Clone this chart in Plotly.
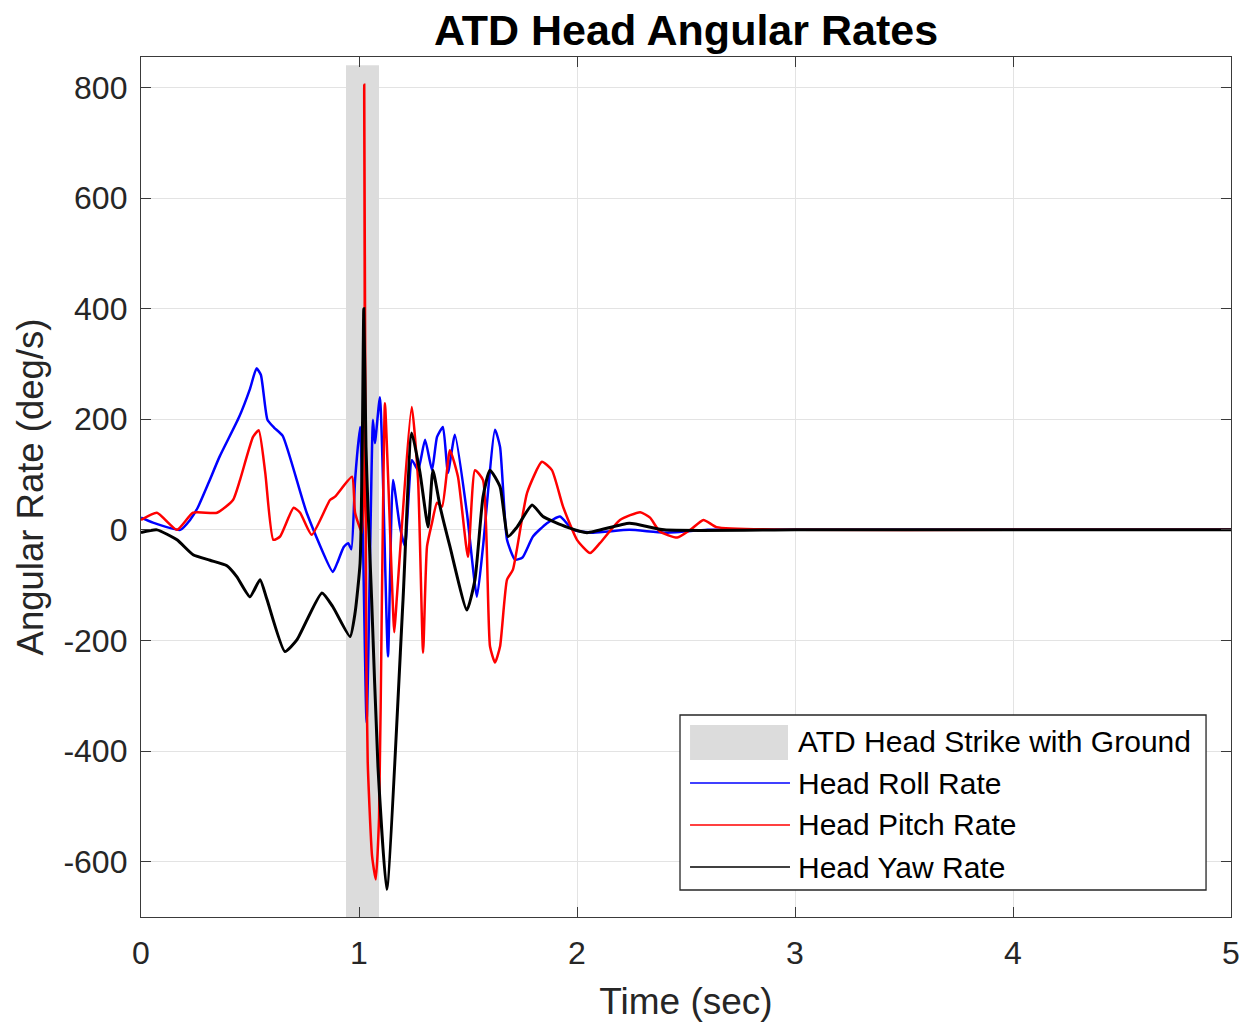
import plotly.graph_objects as go

# Head strike window, drawn as a thick gray vertical line
strike_t = [1.016, 1.016]
strike_y = [-700, 840]

# Head roll rate (deg/s)
roll_t = [0, 0.055, 0.18, 0.225, 0.26, 0.31, 0.36, 0.45, 0.50, 0.53, 0.55, 0.58, 0.61, 0.65,
          0.76, 0.88, 0.90, 0.93, 0.95, 0.965, 0.982, 1.005, 1.035, 1.064, 1.073, 1.096, 1.133,
          1.156, 1.188, 1.211, 1.243, 1.271, 1.303, 1.335, 1.358, 1.385, 1.408, 1.44, 1.495,
          1.541, 1.569, 1.624, 1.647, 1.679, 1.716, 1.75, 1.798, 1.862, 1.922, 1.982, 2.073,
          2.24, 2.4, 2.6, 3.0, 4.0, 5.0]
roll = [22, 13, 0, 18, 40, 85, 132, 204, 255, 292, 280, 199, 185, 170,
        31, -76, -60, -31, -24, -35, 90, 186, -349, 199, 157, 240, -229,
        90, 5, -30, 126, 108, 163, 108, 168, 186, 103, 172, 31,
        -121, -30, 181, 150, -18, -54, -50, -12, 12, 24, 0, -5,
        0, -5, 0, 0, 0, 0]

# Head pitch rate (deg/s)
pitch_t = [0, 0.073, 0.165, 0.239, 0.349, 0.422, 0.454, 0.514, 0.54, 0.57, 0.607, 0.638, 0.70,
           0.73, 0.783, 0.867, 0.89, 0.968, 0.982, 1.014, 1.024, 1.033, 1.04, 1.06, 1.077, 1.092,
           1.105, 1.119, 1.135, 1.162, 1.173, 1.242, 1.271, 1.294, 1.312, 1.335, 1.358, 1.381,
           1.417, 1.454, 1.50, 1.532, 1.569, 1.601, 1.624, 1.647, 1.679, 1.706, 1.771, 1.839,
           1.885, 1.936, 2.0, 2.06, 2.105, 2.197, 2.29, 2.335, 2.38, 2.46, 2.52, 2.58, 2.64,
           3.0, 4.0, 5.0]
pitch = [18, 31, 0, 31, 31, 54, 90, 168, 180, 103, -18, -12, 40,
         31, -9, 54, 60, 96, 31, -5, 805, -200, -420, -590, -632, -520,
         -126, 229, 80, -185, -126, 222, 90, -222, -30, 13, 49, 42,
         144, 96, -49, 108, 90, -211, -240, -211, -90, -72, 67, 123,
         108, 42, -18, -42, -24, 18, 32, 22, -3, -14, 0, 18, 5,
         0, 0, 0]

# Head yaw rate (deg/s)
yaw_t = [0, 0.073, 0.165, 0.239, 0.317, 0.394, 0.44, 0.50, 0.546, 0.578, 0.66, 0.715, 0.83,
         0.88, 0.959, 0.982, 1.005, 1.015, 1.022, 1.032, 1.041, 1.058, 1.087, 1.127, 1.202,
         1.242, 1.28, 1.317, 1.339, 1.372, 1.417, 1.495, 1.532, 1.569, 1.601, 1.647, 1.684,
         1.725, 1.794, 1.844, 1.954, 2.046, 2.24, 2.4, 3.0, 4.0, 5.0]
yaw = [-5, 0, -18, -45, -55, -65, -85, -121, -90, -126, -220, -199, -114,
       -139, -193, -150, -60, 150, 400, 150, 42, -126, -428, -650, -126,
       175, 103, 5, 108, 42, -30, -145, -90, 60, 108, 78, -12,
       5, 45, 24, 5, -5, 12, 0, 0, 0, 0]

x_ticks = [0, 1, 2, 3, 4, 5]
y_ticks = [-600, -400, -200, 0, 200, 400, 600, 800]
y_tick_text = ["-600", "-400", "-200", "0", "200", "400", "600", "800"]

legend_names = ["ATD Head Strike with Ground", "Head Roll Rate", "Head Pitch Rate", "Head Yaw Rate"]
legend_colors = ["#dcdcdc", "#0000ff", "#ff0000", "#000000"]

FONT = "Liberation Sans, Arial, sans-serif"

fig = go.Figure()
fig.add_trace(go.Scatter(x=strike_t, y=strike_y, mode="lines",
                         line=dict(color=legend_colors[0], width=33),
                         name=legend_names[0], showlegend=False))
for t, v, name, color, w in [(roll_t, roll, legend_names[1], legend_colors[1], 2.5),
                             (pitch_t, pitch, legend_names[2], legend_colors[2], 2.5),
                             (yaw_t, yaw, legend_names[3], legend_colors[3], 3)]:
    fig.add_trace(go.Scatter(x=t, y=v, mode="lines", name=name, showlegend=False,
                             line=dict(color=color, width=w, shape="spline", smoothing=0.5)))

axis_common = dict(
    showgrid=True, gridcolor="#e3e3e3", gridwidth=1,
    showline=True, linecolor="#3a3a3a", linewidth=1.3, mirror="ticks",
    ticks="inside", ticklen=10, tickcolor="#3a3a3a",
    zeroline=False, automargin=False,
    tickfont=dict(family=FONT, size=32, color="#262626"),
)

# Legend box drawn in plot-area (paper) coordinates
shapes = [dict(type="rect", xref="paper", yref="paper", x0=0.4945, x1=0.9771, y0=0.0314, y1=0.2349,
               line=dict(color="#262626", width=1.3), fillcolor="white", layer="above")]
shapes.append(dict(type="rect", xref="paper", yref="paper", x0=0.5037, x1=0.5936, y0=0.1826, y1=0.2233,
                   line=dict(width=0), fillcolor=legend_colors[0], layer="above"))
row_y = [0.2035, 0.1558, 0.1070, 0.0581]
for ry, color in zip(row_y[1:], legend_colors[1:]):
    shapes.append(dict(type="line", xref="paper", yref="paper", x0=0.5037, x1=0.5954, y0=ry, y1=ry,
                       line=dict(color=color, width=1.5), layer="above"))
annotations = [dict(text=name, xref="paper", yref="paper", x=0.6010, y=ry, xanchor="left",
                    yanchor="middle", showarrow=False,
                    font=dict(family=FONT, size=30, color="#000000"))
               for name, ry in zip(legend_names, row_y)]

fig.update_layout(
    width=1243, height=1022,
    margin=dict(l=141, r=12, t=57, b=105),
    paper_bgcolor="white", plot_bgcolor="white",
    title=dict(text="<b>ATD Head Angular Rates</b>", x=0.5, xref="paper",
               y=1 - 30 / 1022, yanchor="middle",
               font=dict(family=FONT, size=43, color="#000000")),
    xaxis=dict(range=[0, 5], tickvals=x_ticks, ticklabelstandoff=7,
               title=dict(text="Time (sec)", standoff=20,
                          font=dict(family=FONT, size=37, color="#262626")),
               **axis_common),
    yaxis=dict(range=[-700, 855], tickvals=y_ticks, ticktext=y_tick_text, ticklabelstandoff=6,
               title=dict(text="Angular Rate (deg/s)", standoff=8,
                          font=dict(family=FONT, size=36.5, color="#262626")),
               **axis_common),
    shapes=shapes,
    annotations=annotations,
    showlegend=False,
)

fig.write_html("out.html")
